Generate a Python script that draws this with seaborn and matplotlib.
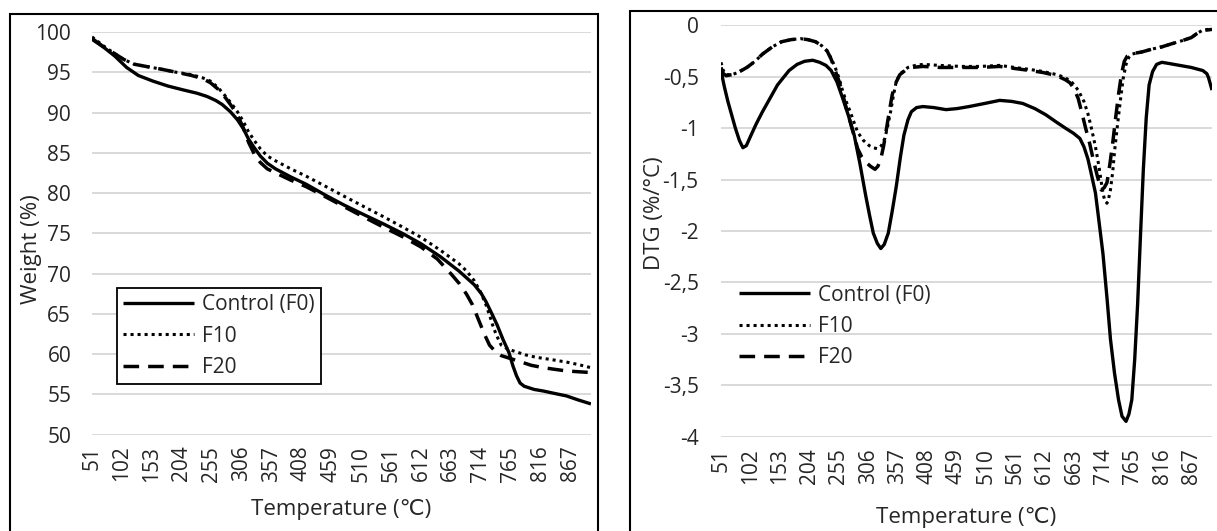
import numpy as np
import pandas as pd
import seaborn as sns
import matplotlib
matplotlib.use("Agg")
import matplotlib.pyplot as plt
from matplotlib.patches import Rectangle
from matplotlib.ticker import FuncFormatter

# %% data
series_names = ["Control (F0)", "F10", "F20"]
x_ticks = [51, 102, 153, 204, 255, 306, 357, 408, 459, 510, 561, 612, 663, 714, 765, 816, 867]

tg_temp_f0 = [51, 71, 90, 110, 130, 155, 180, 207, 230, 247, 262, 273, 287, 299, 309, 318, 328, 338, 350, 364,
              390, 416, 450, 481, 515, 547, 580, 612, 645, 677, 703, 715, 723, 733, 742, 752, 762, 769, 775, 781,
              788, 805, 821, 840, 860, 880, 902]
tg_f0 = [99.1, 98.1, 97.0, 95.6, 94.6, 93.9, 93.3, 92.8, 92.4, 92.0, 91.5, 91.0, 90.1, 89.1, 88.0, 86.7, 85.6, 84.6,
         83.7, 83.0, 82.0, 81.1, 79.7, 78.5, 77.3, 76.2, 75.0, 73.7, 72.1, 70.3, 68.6, 67.5, 66.5, 65.0, 63.6, 61.8,
         60.2, 58.5, 57.3, 56.4, 56.0, 55.6, 55.4, 55.1, 54.8, 54.3, 53.8]

tg_temp_f10 = [51, 70, 90, 105, 123, 145, 168, 195, 221, 240, 253, 266, 279, 290, 299, 309, 318, 328, 338, 350, 364,
               390, 416, 450, 481, 515, 547, 580, 612, 645, 677, 690, 703, 713, 723, 730, 736, 743, 749, 758, 769,
               790, 808, 835, 860, 880, 902]
tg_f10 = [99.4, 98.3, 97.3, 96.6, 96.0, 95.7, 95.4, 95.0, 94.7, 94.3, 93.9, 93.1, 92.0, 91.0, 90.1, 88.9, 87.6, 86.5,
          85.5, 84.6, 84.0, 83.0, 82.1, 80.8, 79.6, 78.3, 77.1, 75.8, 74.5, 72.9, 71.2, 70.3, 69.1, 67.8, 66.1, 64.6,
          63.2, 62.0, 61.1, 60.7, 60.4, 59.9, 59.6, 59.3, 59.0, 58.7, 58.3]

tg_temp_f20 = [51, 70, 90, 105, 123, 145, 168, 195, 221, 240, 253, 266, 279, 290, 299, 309, 318, 328, 338, 350, 364,
               390, 416, 450, 481, 515, 547, 580, 612, 640, 664, 678, 690, 700, 710, 720, 729, 739, 749, 762, 775,
               800, 821, 840, 860, 880, 902]
tg_f20 = [99.2, 98.2, 97.3, 96.6, 96.0, 95.7, 95.4, 95.0, 94.6, 94.2, 93.7, 92.9, 91.8, 90.7, 89.7, 88.1, 86.3, 84.8,
          83.8, 83.0, 82.5, 81.6, 80.8, 79.5, 78.3, 77.0, 75.8, 74.6, 73.3, 71.8, 69.9, 68.7, 67.4, 66.1, 64.3, 62.5,
          61.1, 60.3, 59.8, 59.5, 59.2, 58.6, 58.3, 58.1, 57.9, 57.8, 57.7]

dtg_temp_f0 = [51, 57, 63, 70, 76, 83, 89, 95, 103, 112, 123, 136, 149, 169, 183, 196, 210, 222, 233, 242, 252, 262,
               272, 282, 292, 302, 309, 315, 322, 328, 334, 341, 348, 355, 362, 368, 375, 381, 390, 401, 420, 441,
               460, 481, 508, 534, 555, 574, 595, 614, 632, 648, 662, 673, 680, 687, 693, 700, 706, 713, 720, 726,
               733, 740, 746, 753, 758, 763, 768, 773, 778, 783, 788, 793, 799, 806, 815, 826, 846, 866, 886, 893,
               896, 902]
dtg_f0 = [-0.44, -0.6, -0.74, -0.88, -1.0, -1.12, -1.19, -1.17, -1.07, -0.96, -0.84, -0.71, -0.58, -0.44, -0.38,
          -0.35, -0.34, -0.36, -0.39, -0.44, -0.55, -0.71, -0.88, -1.07, -1.35, -1.66, -1.86, -2.02, -2.12, -2.17,
          -2.13, -2.02, -1.80, -1.56, -1.28, -1.07, -0.92, -0.84, -0.80, -0.79, -0.80, -0.82, -0.81, -0.79, -0.76,
          -0.73, -0.74, -0.76, -0.81, -0.87, -0.94, -1.0, -1.05, -1.10, -1.18, -1.30, -1.45, -1.63, -1.90, -2.22,
          -2.65, -3.05, -3.38, -3.64, -3.80, -3.85, -3.78, -3.64, -3.25, -2.72, -2.05, -1.40, -0.90, -0.58, -0.45,
          -0.38, -0.36, -0.37, -0.39, -0.41, -0.44, -0.47, -0.51, -0.63]

dtg_temp_f10 = [51, 55, 60, 70, 80, 96, 110, 123, 140, 156, 172, 189, 202, 215, 226, 235, 242, 249, 256, 262, 268,
                275, 282, 288, 298, 308, 315, 322, 329, 335, 340, 345, 350, 355, 362, 375, 388, 401, 430, 468, 500,
                534, 560, 587, 610, 633, 648, 660, 670, 680, 687, 693, 700, 706, 710, 713, 716, 720, 723, 726, 730,
                733, 738, 743, 748, 753, 758, 763, 780, 799, 815, 832, 850, 866, 876, 885, 895, 902]
dtg_f10 = [-0.36, -0.44, -0.48, -0.48, -0.46, -0.41, -0.35, -0.28, -0.21, -0.16, -0.14, -0.13, -0.14, -0.16, -0.20,
           -0.25, -0.32, -0.41, -0.52, -0.64, -0.74, -0.84, -0.95, -1.04, -1.12, -1.17, -1.19, -1.20, -1.17, -1.10,
           -0.98, -0.84, -0.68, -0.54, -0.47, -0.41, -0.39, -0.38, -0.39, -0.40, -0.40, -0.39, -0.41, -0.43, -0.45,
           -0.48, -0.51, -0.56, -0.63, -0.74, -0.86, -1.0, -1.18, -1.37, -1.52, -1.63, -1.70, -1.73, -1.68, -1.60,
           -1.42, -1.23, -0.98, -0.74, -0.52, -0.38, -0.31, -0.28, -0.26, -0.23, -0.21, -0.18, -0.15, -0.12, -0.08,
           -0.05, -0.04, -0.03]

dtg_temp_f20 = [51, 55, 60, 70, 80, 96, 110, 123, 140, 156, 172, 189, 202, 215, 226, 235, 242, 249, 256, 262, 268,
                275, 282, 288, 295, 302, 310, 318, 323, 328, 333, 338, 343, 348, 354, 361, 370, 381, 401, 430, 468,
                500, 534, 560, 587, 610, 633, 648, 656, 663, 670, 676, 683, 690, 696, 703, 710, 715, 720, 725, 730,
                735, 740, 745, 750, 755, 760, 780, 799, 815, 832, 850, 866, 876, 885, 895, 902]
dtg_f20 = [-0.41, -0.47, -0.49, -0.48, -0.46, -0.41, -0.35, -0.28, -0.21, -0.16, -0.14, -0.13, -0.14, -0.16, -0.20,
           -0.25, -0.33, -0.44, -0.55, -0.67, -0.80, -0.94, -1.08, -1.20, -1.28, -1.33, -1.37, -1.40, -1.37, -1.30,
           -1.17, -1.0, -0.83, -0.67, -0.56, -0.48, -0.44, -0.41, -0.40, -0.41, -0.41, -0.41, -0.40, -0.42, -0.44,
           -0.46, -0.49, -0.53, -0.56, -0.62, -0.71, -0.84, -1.0, -1.15, -1.30, -1.46, -1.60, -1.58, -1.53, -1.35,
           -1.14, -0.90, -0.67, -0.48, -0.35, -0.30, -0.28, -0.26, -0.23, -0.21, -0.18, -0.15, -0.12, -0.08, -0.05,
           -0.045, -0.04]

# %% long tables
tg = pd.concat([
    pd.DataFrame({"Temperature": tg_temp_f0, "Value": tg_f0, "Series": series_names[0]}),
    pd.DataFrame({"Temperature": tg_temp_f10, "Value": tg_f10, "Series": series_names[1]}),
    pd.DataFrame({"Temperature": tg_temp_f20, "Value": tg_f20, "Series": series_names[2]}),
])
dtg = pd.concat([
    pd.DataFrame({"Temperature": dtg_temp_f0, "Value": dtg_f0, "Series": series_names[0]}),
    pd.DataFrame({"Temperature": dtg_temp_f10, "Value": dtg_f10, "Series": series_names[1]}),
    pd.DataFrame({"Temperature": dtg_temp_f20, "Value": dtg_f20, "Series": series_names[2]}),
])

# %% style
sns.set_theme(style="white")
plt.rcParams["font.family"] = ["Open Sans", "DejaVu Sans"]
fs = 15

line_styles = {
    "Control (F0)": dict(linestyle="-", lw=2.4),
    "F10": dict(linestyle=(0, (1, 1.3)), lw=2.2),
    "F20": dict(linestyle=(0, (4.5, 2.6)), lw=2.5),
}

fig = plt.figure(figsize=(12.17, 5.31), dpi=100)
ax1 = fig.add_axes([0.0756, 0.1817, 0.410, 0.758])
ax2 = fig.add_axes([0.5924, 0.1774, 0.4035, 0.775])


def draw(ax, df):
    for name in series_names:
        sub = df[df["Series"] == name]
        sns.lineplot(data=sub, x="Temperature", y="Value", ax=ax, color="black",
                     label=name, solid_capstyle="butt", **line_styles[name])
    ax.set_xlim(51, 902)
    ax.set_xticks(x_ticks)
    ax.set_xticklabels([str(t) for t in x_ticks], rotation=90, fontsize=fs)
    ax.yaxis.grid(True, color="#d9d9d9", lw=1.4)
    ax.xaxis.grid(False)
    for s in ax.spines.values():
        s.set_visible(False)
    ax.tick_params(axis="both", length=0, labelsize=fs)
    ax.tick_params(axis="x", pad=8)
    ax.set_xlabel("Temperature (℃)", fontsize=fs + 1)


draw(ax1, tg)
ax1.set_ylim(50, 100)
ax1.set_yticks(np.arange(50, 101, 5))
ax1.tick_params(axis="y", pad=15)
ax1.set_ylabel("Weight (%)", fontsize=fs + 1)
ax1.yaxis.set_label_coords(-0.10, 0.46)
ax1.xaxis.set_label_coords(0.5, -0.16)
leg1 = ax1.legend(loc="upper left", bbox_to_anchor=(0.05, 0.364), borderaxespad=0, fontsize=fs,
                  handlelength=3.4, frameon=True, fancybox=False, framealpha=1,
                  labelspacing=0.5, borderpad=0.3, handletextpad=0.4)
leg1.get_frame().set_edgecolor("black")
leg1.get_frame().set_linewidth(1.3)

draw(ax2, dtg)
ax2.set_ylim(-4, 0)
ax2.set_yticks(np.arange(-4, 0.01, 0.5))
ax2.yaxis.set_major_formatter(FuncFormatter(lambda v, p: f"{v:g}".replace(".", ",")))
ax2.tick_params(axis="y", pad=16)
ax2.set_ylabel("DTG (%/°C)", fontsize=fs + 1)
ax2.yaxis.set_label_coords(-0.114, 0.544)
ax2.xaxis.set_label_coords(0.5, -0.17)
ax2.legend(loc="upper left", bbox_to_anchor=(0.02, 0.39), borderaxespad=0, fontsize=fs,
           handlelength=3.4, frameon=False, labelspacing=0.5, handletextpad=0.4)

# panel borders
fig.add_artist(Rectangle((0.0079, -0.01), 0.4835, 0.9833, transform=fig.transFigure,
                         fill=False, ec="black", lw=1.5))
fig.add_artist(Rectangle((0.518, -0.01), 0.49, 0.9897, transform=fig.transFigure,
                         fill=False, ec="black", lw=1.5))

fig.savefig("out.png", dpi=100)
